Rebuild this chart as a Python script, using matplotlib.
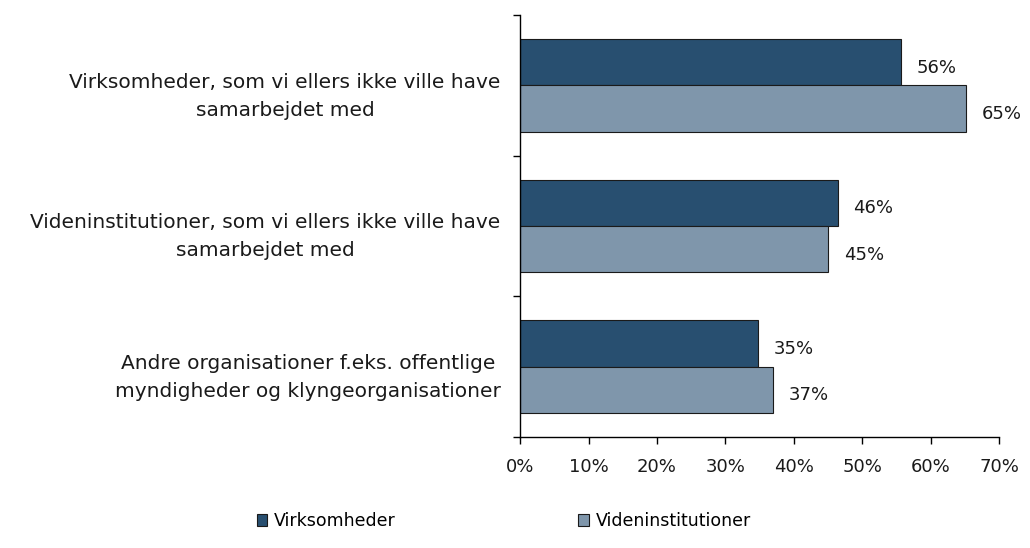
import matplotlib
matplotlib.use("Agg")
import numpy as np
from matplotlib import pyplot as plt
from matplotlib.ticker import FuncFormatter, FixedLocator

plt.rcParams['font.family'] = ['DejaVu Sans']

# data
categories = ["Virksomheder, som vi ellers ikke ville have\nsamarbejdet med",
              "Videninstitutioner, som vi ellers ikke ville have\nsamarbejdet med",
              "Andre organisationer f.eks. offentlige\nmyndigheder og klyngeorganisationer"]
virksomheder = [55.6, 46.4, 34.8]
videninst = [65.2, 45.0, 36.9]
series_names = ["Virksomheder", "Videninstitutioner"]

dark = "#284F70"
light = "#7F96AB"
fs = 14.5

fig = plt.figure(figsize=(10.3, 5.48), dpi=100)
ax = fig.add_axes([0.505, 0.2026, 0.465, 0.77])

y = np.arange(len(categories))
h = 0.33
b1 = ax.barh(y - h / 2, virksomheder, height=h, color=dark, edgecolor="#1a1a1a", linewidth=0.8, label=series_names[0])
b2 = ax.barh(y + h / 2, videninst, height=h, color=light, edgecolor="#1a1a1a", linewidth=0.8, label=series_names[1])

for bars, vals in ((b1, virksomheder), (b2, videninst)):
    for r, v in zip(bars, vals):
        ax.text(v + 2.3, r.get_y() + r.get_height() / 2 + 0.04, "%d%%" % round(v),
                va="center", ha="left", fontsize=13, color="#1a1a1a")

ax.set_xlim(0, 70)
ax.set_ylim(len(categories) - 0.5, -0.5)
ax.set_xticks(np.arange(0, 71, 10))
ax.xaxis.set_major_formatter(FuncFormatter(lambda v, p: "%d%%" % v))
ax.set_yticks(y + 0.03)
ax.set_yticklabels(categories, multialignment="center", linespacing=1.6)
ax.yaxis.set_minor_locator(FixedLocator(np.arange(-0.5, len(categories), 1)))

ax.tick_params(axis="y", which="major", length=0, pad=14, labelsize=fs, labelcolor="#1a1a1a")
ax.tick_params(axis="y", which="minor", length=5, direction="out", width=1)
ax.tick_params(axis="x", length=5, direction="out", width=1, pad=10, labelsize=13, labelcolor="#1a1a1a")

for s in ("top", "right"):
    ax.spines[s].set_visible(False)
for s in ("left", "bottom"):
    ax.spines[s].set_linewidth(1)

fig.legend(handles=[b1, b2], labels=series_names, loc="center",
           bbox_to_anchor=(504 / 1030, 1 - 521 / 548), ncol=2, frameon=False,
           fontsize=12.5, handlelength=0.6, handleheight=0.7, handletextpad=0.4,
           columnspacing=10.5)

fig.savefig("out.png", dpi=100)
plt.close()
